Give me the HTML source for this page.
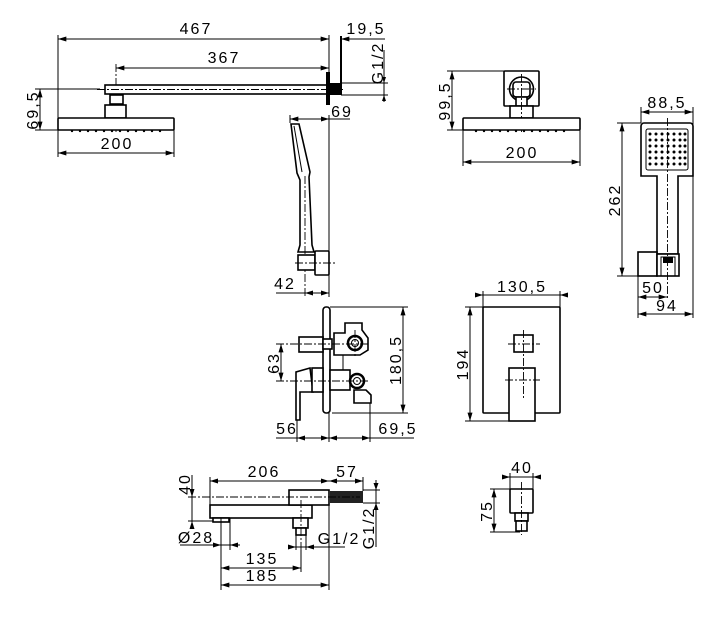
<!DOCTYPE html>
<html><head><meta charset="utf-8"><style>
html,body{margin:0;padding:0;background:#fff;}
svg{display:block}
text{font-family:"Liberation Sans",sans-serif;font-size:16px;letter-spacing:2px;fill:#000;text-anchor:middle}
.l{stroke:#000;stroke-width:1;fill:none}
.s{stroke:#000;stroke-width:1.6;fill:#fff}
.c{stroke:#000;stroke-width:0.9;fill:none;stroke-dasharray:8 2 2 2}
</style></head><body>
<svg width="720" height="620" viewBox="0 0 720 620" xmlns="http://www.w3.org/2000/svg">
<defs>
<marker id="a" viewBox="0 0 10 6" refX="10" refY="3" markerWidth="9" markerHeight="5" orient="auto-start-reverse" markerUnits="userSpaceOnUse"><path d="M0,0 L10,3 L0,6z" fill="#000"/></marker>
</defs>

<!-- ===== Shower arm side view ===== -->
<line class="l" x1="58" y1="39" x2="329" y2="39" marker-start="url(#a)" marker-end="url(#a)"/>
<text x="196" y="34">467</text>
<line class="l" x1="58" y1="35" x2="58" y2="130"/>
<line class="l" x1="329" y1="35" x2="329" y2="72"/>
<line x1="341" y1="36" x2="341" y2="95" stroke="#000" stroke-width="2"/>
<line class="l" x1="341" y1="39" x2="385" y2="39" marker-start="url(#a)"/>
<text x="366" y="34">19,5</text>
<line class="l" x1="116" y1="68" x2="329" y2="68" marker-start="url(#a)" marker-end="url(#a)"/>
<text x="224" y="63">367</text>
<line class="c" x1="116" y1="64" x2="116" y2="132"/>
<rect class="s" x="105" y="85" width="222" height="9"/>
<line class="c" x1="97" y1="89.5" x2="345" y2="89.5"/>
<rect x="326" y="72" width="4" height="33" fill="#000"/>
<rect x="330" y="83" width="11" height="12" fill="#000"/>
<line class="l" x1="341" y1="83" x2="388" y2="83"/>
<line class="l" x1="341" y1="95" x2="388" y2="95"/>
<line class="l" x1="384" y1="50" x2="384" y2="102"/>
<path d="M384,83 l-2,-6 h4z M384,95 l-2,6 h4z" fill="#000"/>
<text transform="translate(383,63) rotate(-90)">G1/2</text>
<rect class="s" x="110" y="95" width="13" height="9"/>
<rect class="s" x="105" y="105" width="21" height="13"/>
<rect class="s" x="58" y="118" width="116" height="12" rx="1"/>
<g fill="#000"><circle cx="72" cy="131" r="1.2"/><circle cx="80" cy="131" r="1.2"/><circle cx="88" cy="131" r="1.2"/><circle cx="96" cy="131" r="1.2"/><circle cx="104" cy="131" r="1.2"/><circle cx="112" cy="131" r="1.2"/><circle cx="120" cy="131" r="1.2"/><circle cx="128" cy="131" r="1.2"/><circle cx="136" cy="131" r="1.2"/><circle cx="144" cy="131" r="1.2"/><circle cx="152" cy="131" r="1.2"/><circle cx="160" cy="131" r="1.2"/></g>
<line class="l" x1="40" y1="89" x2="40" y2="130" marker-start="url(#a)" marker-end="url(#a)"/>
<line class="l" x1="35" y1="89" x2="100" y2="89"/>
<line class="l" x1="35" y1="130" x2="58" y2="130"/>
<text transform="translate(38,110) rotate(-90)">69,5</text>
<line class="l" x1="58" y1="153" x2="174" y2="153" marker-start="url(#a)" marker-end="url(#a)"/>
<line class="l" x1="174" y1="130" x2="174" y2="157"/>
<line class="l" x1="58" y1="130" x2="58" y2="157"/>
<text x="117" y="149">200</text>

<!-- ===== hand shower side ===== -->
<line class="l" x1="290" y1="119" x2="350" y2="119" marker-start="url(#a)"/>
<line class="l" x1="290" y1="115" x2="290" y2="123"/>
<path d="M329,119 l-8,-2.5 v5z" fill="#000"/>
<text x="342" y="117">69</text>
<line class="l" x1="329" y1="115" x2="329" y2="297"/>
<path class="s" d="M291,124 L299,124 L310,172 L309,177 L312,245 L314,252 L298,252 L300,245 L300,180 L297,173 Z"/>
<line class="l" x1="294" y1="126" x2="302" y2="172"/>
<line class="c" x1="305" y1="176" x2="305" y2="297"/>
<rect class="s" x="298" y="255" width="17" height="15"/>
<rect class="s" x="315" y="251" width="14" height="24" rx="1"/>
<line class="c" x1="295" y1="263" x2="337" y2="263"/>
<line class="l" x1="276" y1="293" x2="329" y2="293"/>
<path d="M305,293 l8,-2.5 v5z M329,293 l-8,-2.5 v5z" fill="#000"/>
<text x="285" y="289">42</text>

<!-- ===== shower front ===== -->
<rect class="s" x="504" y="71" width="35" height="35" rx="1"/>
<circle class="s" cx="521.5" cy="89" r="12"/>
<rect class="s" x="513" y="82" width="17" height="15" rx="3"/>
<rect class="s" x="516" y="97" width="11" height="9"/>
<rect class="s" x="510" y="106" width="23" height="12"/>
<line class="c" x1="521.5" y1="74" x2="521.5" y2="132"/>
<line class="c" x1="507" y1="89" x2="536" y2="89"/>
<rect class="s" x="463" y="118" width="117" height="12" rx="1"/>
<g fill="#000"><circle cx="476" cy="131" r="1.2"/><circle cx="484" cy="131" r="1.2"/><circle cx="492" cy="131" r="1.2"/><circle cx="500" cy="131" r="1.2"/><circle cx="508" cy="131" r="1.2"/><circle cx="516" cy="131" r="1.2"/><circle cx="524" cy="131" r="1.2"/><circle cx="532" cy="131" r="1.2"/><circle cx="540" cy="131" r="1.2"/><circle cx="548" cy="131" r="1.2"/><circle cx="556" cy="131" r="1.2"/><circle cx="564" cy="131" r="1.2"/></g>
<line class="l" x1="452" y1="71" x2="452" y2="130" marker-start="url(#a)" marker-end="url(#a)"/>
<line class="l" x1="447" y1="71" x2="504" y2="71"/>
<line class="l" x1="447" y1="130" x2="463" y2="130"/>
<text transform="translate(450,101) rotate(-90)">99,5</text>
<line class="l" x1="463" y1="162" x2="580" y2="162" marker-start="url(#a)" marker-end="url(#a)"/>
<line class="l" x1="463" y1="130" x2="463" y2="166"/>
<line class="l" x1="580" y1="130" x2="580" y2="166"/>
<text x="522" y="158">200</text>

<!-- ===== hand shower front ===== -->
<path class="s" d="M644,123 H690 a3,3 0 0 1 3,3 V176 H678 V254 H657 V176 H641 V126 a3,3 0 0 1 3,-3z"/>
<rect class="l" x="646" y="129" width="42" height="41" rx="2"/>
<g fill="#000">
<circle cx="650" cy="134" r="1.5"/><circle cx="656" cy="134" r="1.5"/><circle cx="662" cy="134" r="1.5"/><circle cx="668" cy="134" r="1.5"/><circle cx="674" cy="134" r="1.5"/><circle cx="680" cy="134" r="1.5"/><circle cx="685" cy="134" r="1.5"/>
<circle cx="650" cy="140" r="1.5"/><circle cx="656" cy="140" r="1.5"/><circle cx="662" cy="140" r="1.5"/><circle cx="668" cy="140" r="1.5"/><circle cx="674" cy="140" r="1.5"/><circle cx="680" cy="140" r="1.5"/><circle cx="685" cy="140" r="1.5"/>
<circle cx="650" cy="146" r="1.5"/><circle cx="656" cy="146" r="1.5"/><circle cx="662" cy="146" r="1.5"/><circle cx="668" cy="146" r="1.5"/><circle cx="674" cy="146" r="1.5"/><circle cx="680" cy="146" r="1.5"/><circle cx="685" cy="146" r="1.5"/>
<circle cx="650" cy="152" r="1.5"/><circle cx="656" cy="152" r="1.5"/><circle cx="662" cy="152" r="1.5"/><circle cx="668" cy="152" r="1.5"/><circle cx="674" cy="152" r="1.5"/><circle cx="680" cy="152" r="1.5"/><circle cx="685" cy="152" r="1.5"/>
<circle cx="650" cy="158" r="1.5"/><circle cx="656" cy="158" r="1.5"/><circle cx="662" cy="158" r="1.5"/><circle cx="668" cy="158" r="1.5"/><circle cx="674" cy="158" r="1.5"/><circle cx="680" cy="158" r="1.5"/><circle cx="685" cy="158" r="1.5"/>
<circle cx="650" cy="164" r="1.5"/><circle cx="656" cy="164" r="1.5"/><circle cx="662" cy="164" r="1.5"/><circle cx="668" cy="164" r="1.5"/><circle cx="674" cy="164" r="1.5"/><circle cx="680" cy="164" r="1.5"/><circle cx="685" cy="164" r="1.5"/>
</g>
<rect class="s" x="638" y="252" width="19" height="24"/>
<rect class="s" x="657" y="254" width="22" height="22"/>
<rect x="663" y="257" width="10" height="6" fill="#000"/>
<rect class="l" x="661" y="257" width="14" height="19"/>
<line class="c" x1="667.5" y1="118" x2="667.5" y2="300"/>
<line class="l" x1="641" y1="112" x2="693" y2="112" marker-start="url(#a)" marker-end="url(#a)"/>
<line class="l" x1="641" y1="107" x2="641" y2="123"/>
<line class="l" x1="693" y1="107" x2="693" y2="318"/>
<text x="667" y="108">88,5</text>
<line class="l" x1="622" y1="123" x2="622" y2="276" marker-start="url(#a)" marker-end="url(#a)"/>
<line class="l" x1="617" y1="123" x2="641" y2="123"/>
<line class="l" x1="617" y1="276" x2="638" y2="276"/>
<text transform="translate(620,200) rotate(-90)">262</text>
<line class="l" x1="638" y1="276" x2="638" y2="318"/>
<line class="l" x1="638" y1="297" x2="667" y2="297" marker-start="url(#a)" marker-end="url(#a)"/>
<text x="653" y="293">50</text>
<line class="l" x1="638" y1="314" x2="693" y2="314" marker-start="url(#a)" marker-end="url(#a)"/>
<text x="667" y="311">94</text>

<!-- ===== mixer side ===== -->
<rect class="s" x="323" y="307" width="7" height="106" rx="3"/>
<rect class="s" x="299" y="337" width="24" height="15"/>
<rect class="s" x="323" y="339" width="9" height="10"/>
<path class="s" d="M334,333 H345 V323 H362 V330 L368,338 V350 L360,355 H334 Z"/>
<circle cx="355" cy="343" r="7" fill="#fff" stroke="#000" stroke-width="2.5"/>
<circle cx="355" cy="343" r="3.5" class="l"/>
<line class="l" x1="343" y1="355" x2="343" y2="370"/>
<path class="s" d="M296,420 L296,372 L310,368 L313,392 L300,392 L300,420 Z"/>
<rect class="s" x="312" y="368" width="11" height="24"/>
<rect class="s" x="330" y="370" width="20" height="20"/>
<path class="s" d="M354,390 H366 L371,395 V403 H354 Z"/>
<circle cx="357" cy="381" r="7" fill="#fff" stroke="#000" stroke-width="2.5"/>
<circle cx="357" cy="381" r="3.5" class="l"/>
<line class="c" x1="276" y1="344" x2="370" y2="344"/>
<line class="c" x1="276" y1="381" x2="368" y2="381"/>
<line class="c" x1="355" y1="330" x2="355" y2="356"/>
<line class="l" x1="281" y1="344" x2="281" y2="381" marker-start="url(#a)" marker-end="url(#a)"/>
<text transform="translate(279,363) rotate(-90)">63</text>
<line class="l" x1="403" y1="307" x2="403" y2="413" marker-start="url(#a)" marker-end="url(#a)"/>
<line class="l" x1="330" y1="307" x2="408" y2="307"/>
<line class="l" x1="332" y1="413" x2="408" y2="413"/>
<text transform="translate(401,360) rotate(-90)">180,5</text>
<line class="l" x1="276" y1="438" x2="414" y2="438"/>
<line class="l" x1="297" y1="420" x2="297" y2="442"/>
<line class="l" x1="329" y1="413" x2="329" y2="442"/>
<line class="l" x1="370" y1="403" x2="370" y2="442"/>
<path d="M297,438 l8,-2.5 v5z M329,438 l-8,-2.5 v5z M329,438 l8,-2.5 v5z M370,438 l-8,-2.5 v5z" fill="#000"/>
<text x="287" y="434">56</text>
<text x="398" y="434">69,5</text>

<!-- ===== mixer front ===== -->
<rect class="s" x="483" y="307" width="77" height="106" rx="1"/>
<rect class="s" x="514" y="335" width="19" height="17"/>
<rect class="s" x="509" y="368" width="26" height="53"/>
<line class="c" x1="523.5" y1="330" x2="523.5" y2="398"/>
<line class="c" x1="508" y1="344" x2="540" y2="344"/>
<line class="c" x1="505" y1="380" x2="540" y2="380"/>
<line class="l" x1="476" y1="295" x2="568" y2="295"/>
<path d="M483,295 l-8,-2.5 v5z M560,295 l8,-2.5 v5z" fill="#000"/>
<line class="l" x1="483" y1="291" x2="483" y2="307"/>
<line class="l" x1="560" y1="291" x2="560" y2="307"/>
<text x="522" y="292">130,5</text>
<line class="l" x1="470" y1="307" x2="470" y2="421" marker-start="url(#a)" marker-end="url(#a)"/>
<line class="l" x1="465" y1="307" x2="483" y2="307"/>
<line class="l" x1="465" y1="421" x2="509" y2="421"/>
<text transform="translate(468,364) rotate(-90)">194</text>

<!-- ===== spout ===== -->
<rect class="s" x="210" y="505" width="102" height="13"/>
<rect class="s" x="289" y="490" width="40" height="15"/>
<rect x="330" y="491" width="33" height="12" fill="#222"/>
<rect class="s" x="213" y="518" width="16" height="4"/>
<rect class="s" x="293" y="518" width="15" height="10"/>
<rect class="s" x="296" y="528" width="10" height="7"/>
<line class="c" x1="188" y1="497" x2="360" y2="497"/>
<line class="c" x1="301" y1="500" x2="301" y2="550"/>
<line class="l" x1="210" y1="481" x2="363" y2="481"/>
<line class="l" x1="210" y1="477" x2="210" y2="505"/>
<line class="l" x1="363" y1="477" x2="363" y2="491"/>
<path d="M210,481 l8,-2.5 v5z M329,481 l-8,-2.5 v5z M329,481 l8,-2.5 v5z M363,481 l-8,-2.5 v5z" fill="#000"/>
<text x="264" y="477">206</text>
<text x="347" y="477">57</text>
<line class="l" x1="192" y1="475" x2="192" y2="522"/>
<path d="M192,497 l-2.5,-8 h5z M192,521 l-2.5,8 h5z" fill="#000"/>
<line class="l" x1="188" y1="521" x2="213" y2="521"/>
<text transform="translate(190,484) rotate(-90)">40</text>
<line class="l" x1="221" y1="518" x2="221" y2="590"/>
<line class="l" x1="230" y1="518" x2="230" y2="550"/>
<line class="l" x1="180" y1="545" x2="240" y2="545"/>
<path d="M221,545 l-8,-2.5 v5z M230,545 l8,-2.5 v5z" fill="#000"/>
<text x="196" y="543">Ø28</text>
<line class="l" x1="296" y1="535" x2="296" y2="550"/>
<line class="l" x1="306" y1="535" x2="306" y2="550"/>
<line class="l" x1="288" y1="547" x2="345" y2="547"/>
<path d="M296,547 l-8,-2.5 v5z M306,547 l8,-2.5 v5z" fill="#000"/>
<text x="339" y="544">G1/2</text>
<line class="l" x1="363" y1="490" x2="380" y2="490"/>
<line class="l" x1="363" y1="503" x2="380" y2="503"/>
<line class="l" x1="376" y1="480" x2="376" y2="547"/>
<path d="M376,490 l-2.5,-7 h5z M376,503 l-2.5,7 h5z" fill="#000"/>
<text transform="translate(374,528) rotate(-90)">G1/2</text>
<line class="l" x1="221" y1="568" x2="301" y2="568" marker-start="url(#a)" marker-end="url(#a)"/>
<line class="l" x1="301" y1="550" x2="301" y2="572"/>
<text x="262" y="564">135</text>
<line class="l" x1="221" y1="585" x2="329" y2="585" marker-start="url(#a)" marker-end="url(#a)"/>
<line class="l" x1="329" y1="505" x2="329" y2="590"/>
<text x="262" y="581">185</text>

<!-- ===== small connector ===== -->
<rect class="s" x="510" y="489" width="23" height="24" rx="1"/>
<rect class="s" x="515" y="513" width="13" height="8"/>
<rect class="s" x="516" y="521" width="11" height="10"/>
<line class="c" x1="521.5" y1="482" x2="521.5" y2="535"/>
<line class="l" x1="505" y1="477" x2="540" y2="477"/>
<path d="M510,477 l-8,-2.5 v5z M533,477 l8,-2.5 v5z" fill="#000"/>
<line class="l" x1="510" y1="473" x2="510" y2="489"/>
<line class="l" x1="533" y1="473" x2="533" y2="489"/>
<text x="522" y="473">40</text>
<line class="l" x1="494" y1="489" x2="494" y2="532" marker-start="url(#a)" marker-end="url(#a)"/>
<line class="l" x1="490" y1="489" x2="510" y2="489"/>
<line class="l" x1="490" y1="532" x2="520" y2="532"/>
<text transform="translate(492,511) rotate(-90)">75</text>
</svg>
</body></html>
